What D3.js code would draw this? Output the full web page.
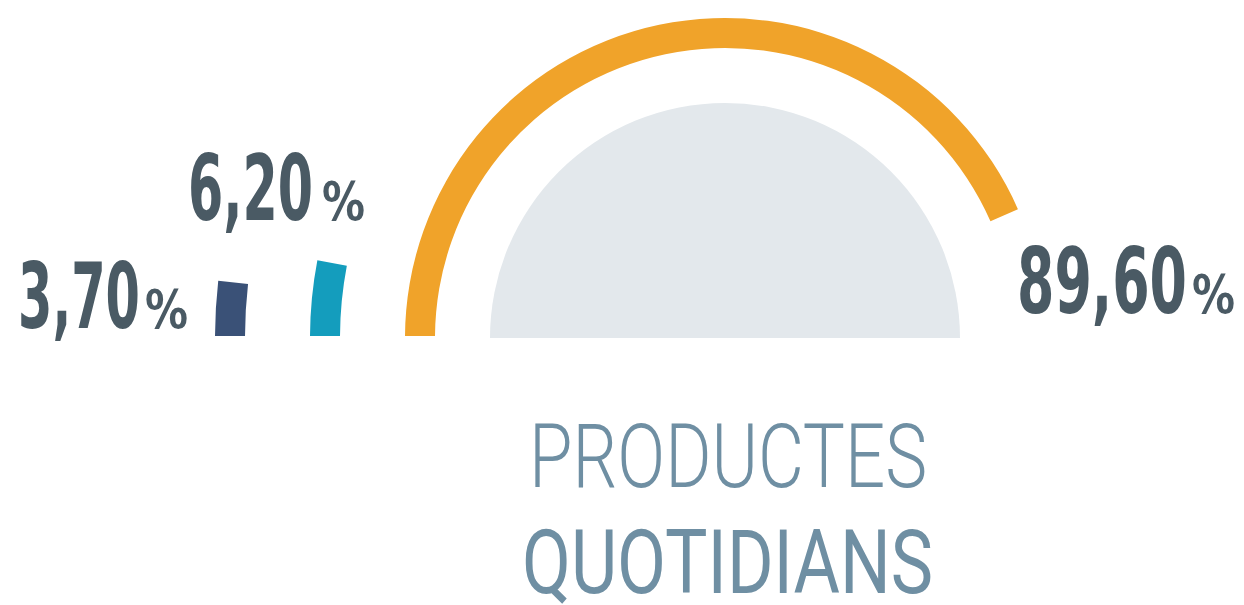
<!DOCTYPE html>
<html><head><meta charset="utf-8">
<script src="https://cdn.jsdelivr.net/npm/d3@7"></script>
<style>html,body{margin:0;padding:0;background:#fff;}svg{display:block;}</style>
</head><body>
<svg id="chart" width="1244" height="605"></svg>
<script>
// ---- data ----
const categories = ["Altres A", "Altres B", "Productes quotidians"];
const values = [3.70, 6.20, 89.60];
const valueLabels = ["3,70", "6,20", "89,60"];
const titleLines = ["PRODUCTES", "QUOTIDIANS"];

// ---- layout ----
const W = 1244, H = 605;
const cx = 725, cy = 338;
const colors = ["#3a5177", "#149dbd", "#f0a32a"];
const svg = d3.select("#chart");

const angle = d3.scaleLinear().domain([0, 100]).range([-Math.PI / 2, -Math.PI / 2 + 174.4 * Math.PI / 180]);
const ringR = d3.scalePoint().domain(["Productes quotidians", "Altres B", "Altres A"]).range([320, 510]);
const thick = 30;

svg.append("defs").append("clipPath").attr("id", "clip")
  .append("rect").attr("x", 0).attr("y", 0).attr("width", W).attr("height", 336);

const g = svg.append("g").attr("transform", `translate(${cx},${cy})`);

// inner gray semicircle
g.append("path")
  .attr("d", d3.arc()({innerRadius: 0, outerRadius: 235, startAngle: -Math.PI / 2, endAngle: Math.PI / 2}))
  .attr("fill", "#e3e8ec");

const arcs = svg.append("g").attr("clip-path", "url(#clip)")
  .append("g").attr("transform", `translate(${cx},${cy})`);
arcs.selectAll("path").data(categories).join("path")
  .attr("d", (c, i) => d3.arc()({
    innerRadius: ringR(c) - thick, outerRadius: ringR(c),
    startAngle: angle(0), endAngle: angle(values[i])
  }))
  .attr("fill", (c, i) => colors[i]);

// value labels
const numFont = "'Liberation Sans Narrow','DejaVu Sans Condensed','Liberation Sans',sans-serif";
const labelPos = [
  {x: 18, w: 122, px: 145, pw: 43, y: 328},
  {x: 188, w: 125, px: 322, pw: 43, y: 220},
  {x: 1017, w: 170, px: 1192, pw: 43, y: 313}
];
const lab = svg.append("g").attr("fill", "#4a5a64").attr("font-family", numFont).attr("font-weight", "bold");
valueLabels.forEach((t, i) => {
  const p = labelPos[i];
  lab.append("text").attr("x", p.x).attr("y", p.y).attr("font-size", 90)
    .attr("textLength", p.w).attr("lengthAdjust", "spacingAndGlyphs").text(t);
  lab.append("text").attr("x", p.px).attr("y", p.y).attr("font-size", 53)
    .attr("textLength", p.pw).attr("lengthAdjust", "spacingAndGlyphs").text("%");
});

// title
const tg = svg.append("g").attr("fill", "#6f8fa3").attr("font-family", "Roboto, 'Open Sans', sans-serif");
tg.append("text").attr("x", 529).attr("y", 487).attr("font-size", 89).attr("font-weight", 300)
  .attr("textLength", 398).attr("lengthAdjust", "spacingAndGlyphs").text(titleLines[0]);
tg.append("text").attr("x", 522).attr("y", 593).attr("font-size", 89).attr("font-weight", 400)
  .attr("textLength", 411).attr("lengthAdjust", "spacingAndGlyphs").text(titleLines[1]);
</script>
</body></html>
